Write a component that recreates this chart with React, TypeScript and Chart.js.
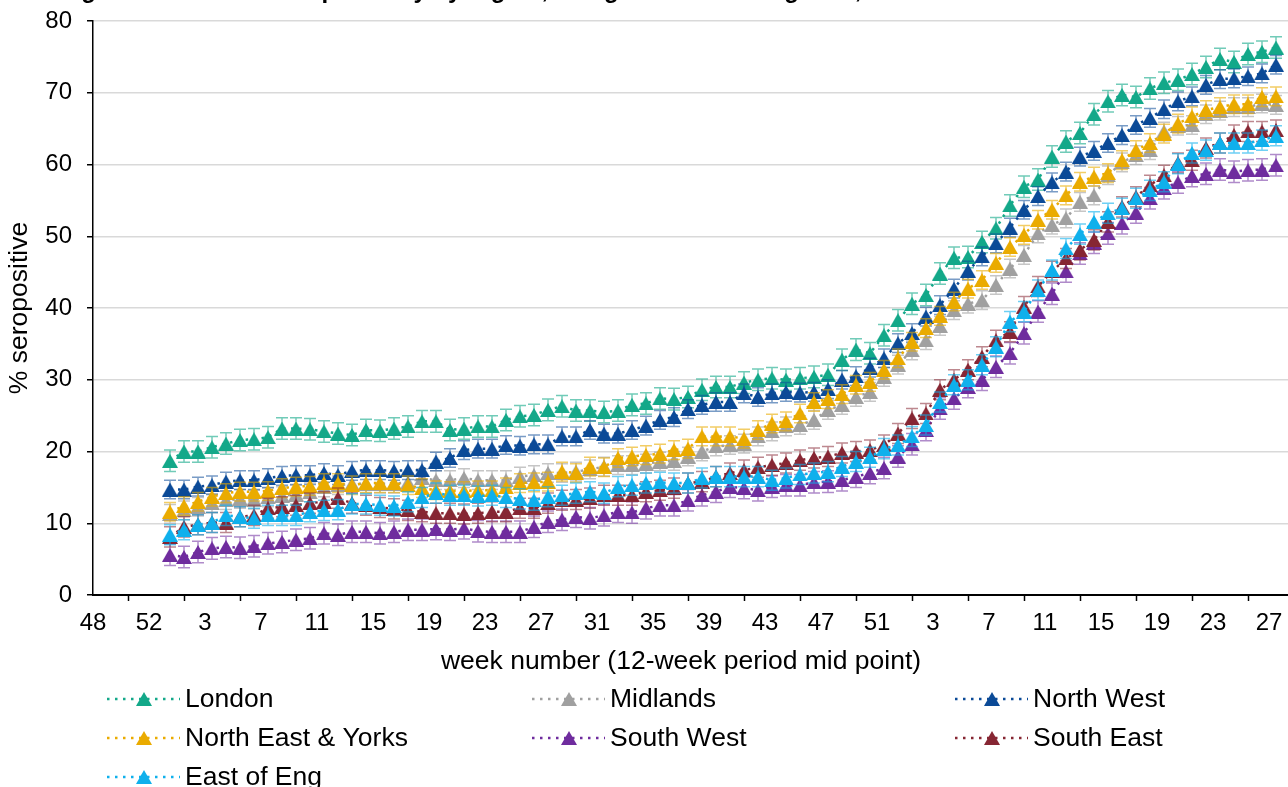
import { useEffect, useRef } from "react";
import { Chart, registerables } from "chart.js";

Chart.register(...registerables);

// ---- categories (ISO week numbers, late 2020 to mid 2022) ----
const weeks2020 = [48, 49, 50, 51, 52, 53];
const weeks2021 = Array.from({ length: 52 }, (_, i) => i + 1);
const weeks2022 = Array.from({ length: 28 }, (_, i) => i + 1);
const categories = [...weeks2020, ...weeks2021, ...weeks2022].map(String);
const tickEvery = 4;
const firstDataIndex = 5; // week 53 of 2020

const yTicks = { min: 0, max: 80, step: 10 };

// ---- series values (% seropositive), from 2020 w53 to 2022 w27 ----
const london = [18.7,
  20.0, 20.0, 20.6, 21.1, 21.6, 21.7, 22.0, 23.2, 23.2, 23.1,
  22.8, 22.5, 22.3, 23.0, 22.9, 23.2, 23.5, 24.2, 24.2, 23.0,
  23.2, 23.5, 23.5, 24.4, 24.9, 25.1, 25.8, 26.3, 25.7, 25.7,
  25.5, 25.7, 26.5, 26.7, 27.4, 27.3, 27.6, 28.6, 29.0, 29.0,
  29.6, 30.0, 30.2, 30.0, 30.2, 30.4, 30.7, 32.8, 34.2, 33.7,
  36.2, 38.3,
  40.6, 41.8, 44.8, 47.0, 47.1, 49.2, 51.1, 54.3, 56.9, 57.9,
  61.1, 63.2, 64.4, 67.0, 68.8, 69.7, 69.4, 70.6, 71.4, 71.8,
  72.6, 73.6, 74.7, 74.3, 75.4, 75.7, 76.3];

const midlands = [11.3,
  11.8, 12.3, 12.8, 13.2, 13.4, 13.3, 13.6, 13.8, 14.0, 14.3,
  15.0, 15.3, 15.5, 15.5, 15.5, 15.5, 15.7, 16.3, 16.0, 16.0,
  16.3, 16.0, 16.0, 16.0, 16.5, 16.7, 17.0, 17.0, 17.2, 17.5,
  17.9, 18.1, 18.1, 18.3, 18.6, 18.7, 19.3, 20.0, 20.7, 20.9,
  21.1, 22.1, 22.8, 23.5, 23.7, 24.4, 25.8, 26.5, 27.6, 28.3,
  30.4, 32.1,
  34.1, 35.5, 37.5, 39.7, 40.6, 41.1, 43.2, 45.5, 47.4, 50.4,
  51.6, 52.5, 54.8, 55.7, 58.5, 60.3, 61.3, 62.0, 64.6, 65.4,
  65.5, 67.0, 67.5, 68.0, 68.0, 68.5, 68.3];

const northWest = [14.7,
  14.7, 15.1, 15.3, 15.8, 16.0, 16.0, 16.3, 16.6, 16.7, 16.7,
  17.0, 16.7, 17.3, 17.4, 17.4, 17.3, 17.4, 17.4, 18.6, 19.1,
  20.2, 20.4, 20.4, 20.9, 20.8, 21.0, 21.0, 22.1, 22.1, 23.0,
  22.5, 22.5, 23.0, 23.6, 24.4, 24.8, 25.9, 26.5, 26.9, 26.9,
  28.1, 27.6, 28.1, 28.3, 28.2, 28.3, 28.7, 30.0, 30.5, 31.7,
  33.0, 35.1,
  36.5, 38.8, 40.4, 42.7, 45.2, 47.2, 49.0, 51.2, 53.7, 55.6,
  57.5, 59.0, 61.1, 61.9, 63.0, 64.1, 65.5, 66.5, 67.7, 68.8,
  69.5, 71.1, 71.9, 72.0, 72.3, 72.7, 73.9];

const northEastYorks = [11.6,
  12.4, 13.0, 13.7, 14.2, 14.4, 14.4, 14.5, 14.9, 15.1, 15.2,
  15.6, 15.6, 15.3, 15.6, 15.6, 15.6, 15.3, 14.9, 14.6, 14.5,
  14.5, 14.6, 14.6, 15.0, 15.6, 15.7, 15.8, 17.2, 17.0, 17.9,
  17.8, 19.1, 19.3, 19.5, 19.7, 20.2, 20.4, 22.1, 22.1, 22.1,
  21.8, 23.0, 23.9, 24.2, 25.3, 26.9, 27.3, 28.0, 29.3, 29.7,
  31.4, 33.0,
  35.3, 37.2, 38.9, 40.9, 42.7, 43.9, 46.3, 48.5, 50.2, 52.3,
  53.7, 55.7, 57.6, 58.3, 58.8, 60.6, 62.0, 63.0, 64.3, 65.7,
  66.7, 67.6, 68.0, 68.4, 68.4, 69.4, 69.5];

const southWest = [5.6,
  5.3, 6.0, 6.5, 6.7, 6.6, 6.8, 7.2, 7.4, 7.7, 7.9,
  8.6, 8.4, 8.8, 8.8, 8.6, 8.8, 9.1, 9.1, 9.2, 9.1,
  9.3, 8.9, 8.8, 8.8, 8.8, 9.5, 10.2, 10.5, 10.9, 10.7,
  11.1, 11.6, 11.5, 12.1, 12.5, 12.5, 13.2, 13.9, 14.4, 15.1,
  14.9, 14.6, 15.1, 15.3, 15.3, 15.7, 15.8, 16.0, 16.5, 17.0,
  17.7, 19.3,
  21.0, 23.0, 26.0, 27.4, 29.0, 30.0, 31.8, 33.7, 36.5, 39.5,
  42.0, 45.1, 47.6, 49.1, 50.4, 51.8, 53.3, 55.3, 56.7, 57.5,
  58.4, 58.7, 59.3, 59.0, 59.2, 59.3, 59.9];

const southEast = [8.1,
  9.5, 9.8, 10.1, 10.1, 10.9, 11.1, 12.1, 12.3, 12.5, 12.8,
  13.0, 13.5, 12.8, 12.5, 12.2, 12.0, 11.8, 11.6, 11.4, 11.4,
  11.3, 11.4, 11.6, 11.6, 12.1, 12.1, 12.8, 13.2, 13.3, 13.5,
  13.9, 13.9, 13.9, 14.4, 14.6, 14.9, 15.6, 15.8, 16.5, 17.0,
  17.4, 17.8, 18.1, 18.4, 18.8, 19.1, 19.3, 19.8, 20.0, 20.2,
  20.9, 22.5,
  24.6, 25.3, 28.6, 30.0, 31.4, 33.2, 35.5, 36.7, 40.2, 43.0,
  45.1, 46.9, 48.1, 49.5, 52.0, 54.1, 55.5, 57.1, 58.5, 60.2,
  60.6, 62.3, 63.0, 64.1, 64.6, 64.6, 64.8];

const eastOfEng = [8.4,
  9.1, 9.8, 10.1, 11.1, 10.9, 10.7, 11.1, 11.1, 11.1, 11.6,
  11.8, 11.9, 12.7, 12.7, 12.5, 12.4, 13.0, 13.6, 14.2, 13.9,
  13.9, 13.8, 13.9, 13.6, 13.4, 13.2, 13.7, 13.9, 14.2, 14.4,
  14.2, 15.1, 15.3, 15.6, 15.7, 15.6, 15.6, 16.3, 16.5, 16.5,
  16.5, 16.5, 16.0, 16.3, 16.8, 17.0, 17.2, 17.9, 18.6, 19.2,
  20.4, 20.9,
  22.1, 23.7, 26.9, 29.3, 30.0, 32.1, 34.6, 38.1, 39.5, 42.5,
  45.3, 48.3, 50.3, 52.0, 53.2, 53.9, 55.3, 56.4, 57.6, 60.1,
  61.6, 62.0, 63.0, 63.0, 63.0, 63.4, 64.0];

const seriesNames = ["London", "Midlands", "North West", "North East & Yorks", "South West", "South East", "East of Eng"];
const seriesValues = [london, midlands, northWest, northEastYorks, southWest, southEast, eastOfEng];
const seriesColors = ["#13a889", "#a0a0a0", "#0b4a97", "#eaab00", "#6f2c9e", "#862633", "#0fb0ec"];
const errorBarColors = ["rgba(19,168,137,0.6)", "rgba(160,160,160,0.6)", "rgba(11,74,151,0.55)", "rgba(234,171,0,0.6)", "rgba(111,44,158,0.55)", "rgba(134,38,51,0.55)", "rgba(15,176,236,0.6)"];
const errorHalfWidths = [1.5, 1.3, 1.3, 1.3, 1.5, 1.4, 1.4];

const titleText = "Figure 3. Roche N seropositivity by region, using 12-week rolling data,";
const xAxisTitle = "week number (12-week period mid point)";
const yAxisTitle = "% seropositive";

const FONT = "'Liberation Sans', Arial, Helvetica, sans-serif";
const CANVAS_W = 1310;
const CANVAS_H = 830;
const SHIFT_Y = 30;
const MARKER_W = 16;
const MARKER_H = 14;

function makeMarker(color: string): HTMLCanvasElement {
  const c = document.createElement("canvas");
  c.width = MARKER_W;
  c.height = MARKER_H;
  const g = c.getContext("2d")!;
  g.beginPath();
  g.moveTo(MARKER_W / 2, 0);
  g.lineTo(MARKER_W, MARKER_H);
  g.lineTo(0, MARKER_H);
  g.closePath();
  g.fillStyle = color;
  g.fill();
  return c;
}

const errorBarPlugin = {
  id: "errorBars",
  beforeDatasetDraw(chart: any, args: any) {
    const idx = args.index;
    const meta = args.meta;
    const ds = chart.data.datasets[idx];
    const yScale = chart.scales.y;
    const err = errorHalfWidths[idx];
    const ctx = chart.ctx;
    ctx.save();
    ctx.strokeStyle = errorBarColors[idx];
    ctx.lineWidth = 1.5;
    ctx.setLineDash([]);
    meta.data.forEach((el: any, i: number) => {
      const v = ds.data[i];
      if (v === null || v === undefined) return;
      const x = el.x;
      const yt = yScale.getPixelForValue(v + err);
      const yb = yScale.getPixelForValue(v - err);
      ctx.beginPath();
      ctx.moveTo(x, yt);
      ctx.lineTo(x, yb);
      ctx.moveTo(x - 6, yt);
      ctx.lineTo(x + 6, yt);
      ctx.moveTo(x - 6, yb);
      ctx.lineTo(x + 6, yb);
      ctx.stroke();
    });
    ctx.restore();
  },
};

const decorPlugin = {
  id: "decor",
  afterDraw(chart: any) {
    const ctx = chart.ctx;
    const markers: HTMLCanvasElement[] = chart.$markers || [];
    ctx.save();
    // title, mostly above the visible page
    ctx.fillStyle = "#000";
    ctx.font = `bold 24px ${FONT}`;
    ctx.textAlign = "left";
    ctx.textBaseline = "alphabetic";
    ctx.fillText(titleText, 60, SHIFT_Y - 2);

    // x axis title
    ctx.textAlign = "center";
    ctx.font = `26.5px ${FONT}`;
    ctx.textBaseline = "middle";
    ctx.fillText(xAxisTitle, 681, SHIFT_Y + 662);

    // legend (3-column grid)
    const colX = [107, 532, 955];
    const rowY = [699, 738, 777];
    ctx.textAlign = "left";
    seriesNames.forEach((name, i) => {
      const x = colX[i % 3];
      const y = rowY[Math.floor(i / 3)] + SHIFT_Y;
      ctx.strokeStyle = seriesColors[i];
      ctx.lineWidth = 2.5;
      ctx.setLineDash([2.5, 5.5]);
      ctx.beginPath();
      ctx.moveTo(x, y);
      ctx.lineTo(x + 73, y);
      ctx.stroke();
      ctx.setLineDash([]);
      if (markers[i]) {
        ctx.drawImage(markers[i], Math.round(x + 36.5 - MARKER_W / 2), Math.round(y - MARKER_H / 2));
      }
      ctx.fillStyle = "#000";
      ctx.font = `26.5px ${FONT}`;
      ctx.textBaseline = "middle";
      ctx.fillText(name, x + 78, y + 1);
    });
    ctx.restore();
  },
};

export default function App() {
  const canvasRef = useRef<HTMLCanvasElement | null>(null);

  useEffect(() => {
    if (!canvasRef.current) return;
    Chart.defaults.font.family = FONT;
    const markers = seriesColors.map(makeMarker);
    const datasets = seriesNames.map((name, i) => ({
      label: name,
      data: [
        ...Array(firstDataIndex).fill(null),
        ...seriesValues[i],
        ...Array(categories.length - firstDataIndex - seriesValues[i].length).fill(null),
      ],
      borderColor: seriesColors[i],
      backgroundColor: seriesColors[i],
      borderWidth: 2.5,
      borderDash: [2.5, 5.5],
      pointStyle: markers[i],
      pointRadius: 8,
      pointHoverRadius: 8,
      pointBorderWidth: 0,
      pointBackgroundColor: seriesColors[i],
      tension: 0,
      fill: false,
      order: seriesNames.length - i,
    }));

    const chart: any = new Chart(canvasRef.current, {
      type: "line",
      data: { labels: categories, datasets },
      plugins: [errorBarPlugin, decorPlugin],
      options: {
        animation: false,
        responsive: false,
        maintainAspectRatio: false,
        layout: { padding: { top: SHIFT_Y + 21, right: 13, bottom: 115, left: 0 } },
        plugins: {
          legend: { display: false },
          title: { display: false },
          tooltip: { enabled: false },
        },
        scales: {
          x: {
            type: "category",
            offset: true,
            afterFit: (scale: any) => {
              scale.height = 90;
            },
            grid: {
              offset: true,
              drawOnChartArea: false,
              drawTicks: true,
              tickLength: 6,
              tickColor: "#000",
              tickWidth: 1.5,
            },
            border: { display: true, color: "#000", width: 2 },
            ticks: {
              autoSkip: false,
              maxRotation: 0,
              minRotation: 0,
              color: "#000",
              font: { size: 24 },
              padding: 8,
              labelOffset: -7,
              callback: (_v: any, i: number) => (i % tickEvery === 0 ? categories[i] : null),
            },
            title: { display: false },
          },
          y: {
            min: yTicks.min,
            max: yTicks.max,
            afterFit: (scale: any) => {
              scale.width = 93;
            },
            grid: {
              color: "#d9d9d9",
              lineWidth: 1.5,
              tickLength: 6,
              tickColor: "#000",
              tickWidth: 1.5,
            },
            border: { display: true, color: "#000", width: 1.5 },
            ticks: {
              stepSize: yTicks.step,
              color: "#000",
              font: { size: 24 },
              padding: 15,
            },
            title: {
              display: true,
              text: yAxisTitle,
              color: "#000",
              font: { size: 26.5 },
              padding: { top: 4, bottom: 0 },
            },
          },
        },
      } as any,
    });
    chart.$markers = markers;
    chart.draw();
    return () => chart.destroy();
  }, []);

  return (
    <div
      style={{
        position: "fixed",
        left: 0,
        top: 0,
        width: 1288,
        height: 787,
        overflow: "hidden",
        background: "#fff",
      }}
    >
      <canvas
        ref={canvasRef}
        width={CANVAS_W}
        height={CANVAS_H}
        style={{ position: "absolute", left: 0, top: -SHIFT_Y, width: CANVAS_W, height: CANVAS_H }}
      />
    </div>
  );
}
